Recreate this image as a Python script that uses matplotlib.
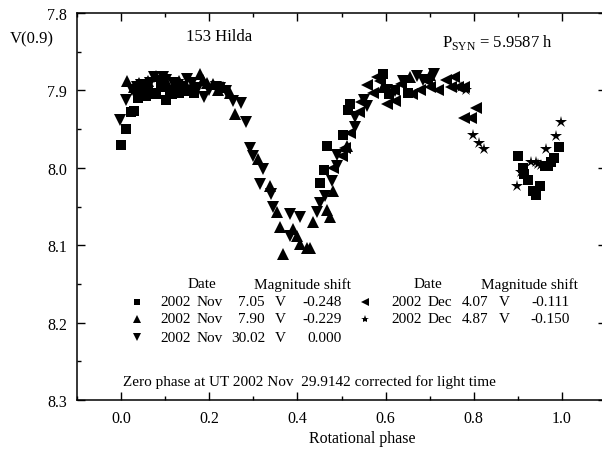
import matplotlib
matplotlib.use('Agg')
import matplotlib.pyplot as plt

plt.rcParams['font.family'] = ['Liberation Serif', 'DejaVu Serif']
plt.rcParams['mathtext.fontset'] = 'custom'
plt.rcParams['mathtext.rm'] = 'Liberation Serif'

# 2002 Nov 7.05 (squares)
sq_phase = [0.000, 0.011, 0.022, 0.030, 0.038, 0.045, 0.050, 0.056, 0.060, 0.071,
            0.080, 0.090, 0.102, 0.110, 0.115, 0.125, 0.132, 0.147, 0.166,
            0.451, 0.460, 0.467, 0.504, 0.515, 0.520, 0.595, 0.608, 0.650,
            0.900, 0.911, 0.914, 0.922, 0.934, 0.941, 0.951, 0.961, 0.968,
            0.975, 0.982, 0.993]
sq_mag = [7.970, 7.950, 7.928, 7.927, 7.910, 7.903, 7.905, 7.907, 7.900, 7.903,
          7.905, 7.896, 7.913, 7.900, 7.905, 7.899, 7.903, 7.901, 7.903,
          8.020, 8.003, 7.972, 7.958, 7.925, 7.918, 7.879, 7.905, 7.903,
          7.985, 8.000, 8.008, 8.016, 8.030, 8.035, 8.024, 7.998, 7.998,
          7.992, 7.987, 7.973]

# 2002 Nov 7.90 (up triangles)
up_phase = [0.014, 0.030, 0.041, 0.060, 0.079, 0.090, 0.100, 0.120, 0.132, 0.150,
            0.160, 0.178, 0.185, 0.195, 0.208, 0.220, 0.231, 0.246, 0.258,
            0.310, 0.337, 0.353, 0.360, 0.367, 0.390, 0.399, 0.406, 0.422, 0.429,
            0.435, 0.467, 0.474, 0.481, 0.513,
            0.595, 0.656, 0.700]
up_mag = [7.888, 7.895, 7.890, 7.888, 7.882, 7.893, 7.885, 7.895, 7.888, 7.895,
          7.893, 7.879, 7.886, 7.890, 7.892, 7.900, 7.896, 7.903, 7.931,
          7.989, 8.024, 8.057, 8.077, 8.112, 8.079, 8.088, 8.099, 8.103, 8.103,
          8.070, 8.054, 8.064, 8.030, 7.972,
          7.895, 7.883, 7.880]

# 2002 Nov 30.02 (down triangles)
dn_phase = [-0.002, 0.011, 0.025, 0.035, 0.045, 0.056, 0.065, 0.075, 0.085, 0.094,
            0.102, 0.117, 0.130, 0.140, 0.150, 0.162, 0.175, 0.189, 0.200, 0.216,
            0.225, 0.239, 0.254, 0.273, 0.284,
            0.292, 0.299, 0.315, 0.321, 0.341, 0.344, 0.383, 0.383, 0.406,
            0.444, 0.451, 0.463, 0.479, 0.490, 0.490, 0.531, 0.531, 0.550,
            0.558, 0.604, 0.622, 0.640, 0.672, 0.686, 0.709]
dn_mag = [7.938, 7.912, 7.899, 7.895, 7.893, 7.901, 7.890, 7.883, 7.888, 7.883,
          7.886, 7.890, 7.893, 7.895, 7.885, 7.890, 7.897, 7.908, 7.900, 7.895,
          7.897, 7.901, 7.914, 7.916, 7.941,
          7.974, 7.985, 8.021, 8.002, 8.034, 8.051, 8.060, 8.088, 8.063,
          8.057, 8.045, 8.036, 8.017, 7.998, 7.984, 7.947, 7.935, 7.912,
          7.920, 7.899, 7.901, 7.888, 7.882, 7.886, 7.879]

# 2002 Dec 4.07 (left triangles)
lt_phase = [0.480, 0.500, 0.508, 0.520, 0.540, 0.545, 0.558, 0.572, 0.581, 0.588,
            0.604, 0.618, 0.622, 0.634, 0.660, 0.679, 0.695, 0.700, 0.718, 0.736,
            0.748, 0.755, 0.764, 0.777, 0.777, 0.793, 0.805]
lt_mag = [8.000, 7.985, 7.974, 7.955, 7.928, 7.915, 7.893, 7.903, 7.883, 7.888,
          7.918, 7.899, 7.914, 7.892, 7.905, 7.899, 7.888, 7.895, 7.899, 7.886,
          7.896, 7.883, 7.896, 7.896, 7.936, 7.936, 7.923]

# 2002 Dec 4.87 (stars)
st_phase = [0.770, 0.782, 0.799, 0.811, 0.823, 0.897, 0.907, 0.930, 0.941, 0.945,
            0.953, 0.964, 0.987, 0.998]
st_mag = [7.896, 7.899, 7.957, 7.968, 7.976, 8.024, 8.005, 7.993, 7.993, 7.995,
          7.997, 7.976, 7.959, 7.941]

legend_left = [('s', '2002', 'Nov', '7.05', 'V', '-0.248'),
               ('^', '2002', 'Nov', '7.90', 'V', '-0.229'),
               ('v', '2002', 'Nov', '30.02', 'V', '0.000')]
legend_right = [('<', '2002', 'Dec', '4.07', 'V', '-0.111'),
                ('*', '2002', 'Dec', '4.87', 'V', '-0.150')]

W, H = 602, 452
fig = plt.figure(figsize=(6.02, 4.52), dpi=100)
ax = fig.add_axes([77.0 / W, 1 - 401.0 / H, (606.0 - 77.0) / W, (401.0 - 14.0) / H])

ax.plot(sq_phase, sq_mag, 's', color='black', ms=6.5, mew=0)
ax.plot(up_phase, up_mag, '^', color='black', ms=8, mew=0)
ax.plot(dn_phase, dn_mag, 'v', color='black', ms=8, mew=0)
ax.plot(lt_phase, lt_mag, '<', color='black', ms=8, mew=0)
ax.plot(st_phase, st_mag, '*', color='black', ms=9, mew=0)

ax.set_xlim(-0.1, 1.1)
ax.set_ylim(8.3, 7.8)
ax.set_xticks([0.0, 0.2, 0.4, 0.6, 0.8, 1.0])
ax.set_xticks([-0.1, 0.1, 0.3, 0.5, 0.7, 0.9, 1.1], minor=True)
ax.set_yticks([7.8, 7.9, 8.0, 8.1, 8.2, 8.3])
ax.set_yticks([7.85, 7.95, 8.05, 8.15, 8.25], minor=True)
ax.set_xticklabels(['0.0', '0.2', '0.4', '0.6', '0.8', '1.0'])
ax.set_yticklabels(['7.8', '7.9', '8.0', '8.1', '8.2', '8.3'])
ax.tick_params(which='both', direction='in', top=True, right=True, labelsize=11.5, width=1.0)
ax.tick_params(which='major', length=6, pad=7)
ax.tick_params(which='minor', length=3)
for sp in ax.spines.values():
    sp.set_linewidth(1.1)

def ftext(px, py, s, size=11, **kw):
    fig.text(px / W, 1 - py / H, s, va='center', fontsize=size, **kw)

ftext(10, 39, 'V(0.9)', ha='left', size=12)
ftext(186, 37, '153 Hilda', ha='left', size=12)
ftext(442, 42, r'P$_{\mathregular{SYN}}$ = 5.9587 h', ha='left', size=12)
ftext(362, 439, 'Rotational phase', ha='center', size=11.5)
ftext(123, 382, 'Zero phase at UT 2002 Nov  29.9142 corrected for light time', ha='left')

# legend table
ftext(202, 285, 'Date', ha='center')
ftext(302, 285, 'Magnitude shift', ha='center')
ftext(428, 285, 'Date', ha='center')
ftext(529, 285, 'Magnitude shift', ha='center')

rows_y = [303, 320, 338]
for (mk, yr, mon, day, band, shift), py in zip(legend_left, rows_y):
    fig.lines.append(plt.Line2D([137.0 / W], [1 - py / H], marker=mk, color='black',
                                ms=6 if mk != 's' else 5, mew=0, transform=fig.transFigure))
    ftext(160, py, yr, ha='left')
    ftext(197, py, mon, ha='left')
    ftext(265, py, day, ha='right')
    ftext(280, py, band, ha='center')
    ftext(342, py, shift, ha='right')
for (mk, yr, mon, day, band, shift), py in zip(legend_right, rows_y):
    fig.lines.append(plt.Line2D([365.0 / W], [1 - py / H], marker=mk, color='black',
                                ms=6, mew=0, transform=fig.transFigure))
    ftext(391, py, yr, ha='left')
    ftext(428, py, mon, ha='left')
    ftext(488, py, day, ha='right')
    ftext(504, py, band, ha='center')
    ftext(570, py, shift, ha='right')

fig.savefig('out.png', dpi=100)
